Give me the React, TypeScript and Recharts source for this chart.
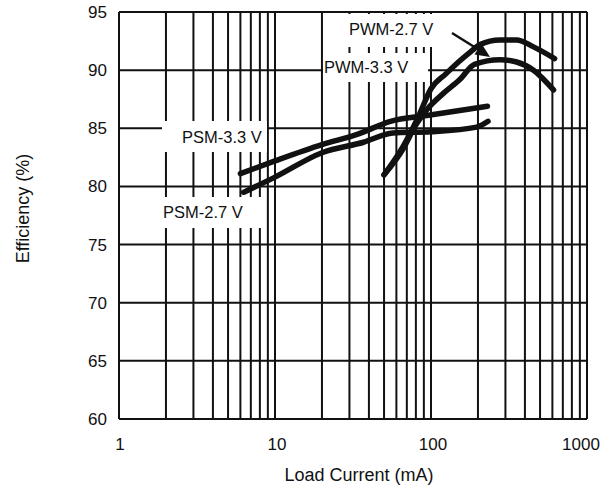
import React from "react";
import { LineChart, Line, XAxis, YAxis, CartesianGrid } from "recharts";

// --- Data ---

// log-scale grid: 1..9, 10..90, 100..1000 mA
const X_GRID = [1, 2, 3, 4, 5, 6, 7, 8, 9, 10, 20, 30, 40, 50, 60, 70, 80, 90, 100, 200, 300, 400, 500, 600, 700, 800, 900, 1000];
const X_LABELED = [1, 10, 100, 1000];
const Y_TICKS = [60, 65, 70, 75, 80, 85, 90, 95];

const PSM_33_X = [6, 10, 20, 34, 55, 94, 230];
const PSM_33_Y = [81.1, 82.2, 83.6, 84.5, 85.6, 86.1, 86.9];

const PSM_27_X = [6.3, 10, 20, 37, 57, 100, 196, 232];
const PSM_27_Y = [79.5, 80.8, 82.9, 83.8, 84.6, 84.7, 85.1, 85.6];

const PWM_27_X = [50, 66, 83, 100, 125, 150, 180, 206, 277, 354, 454, 620];
const PWM_27_Y = [81.0, 83.4, 86.0, 88.4, 89.7, 90.7, 91.6, 92.2, 92.6, 92.6, 92.0, 91.0];

const PWM_33_X = [50, 66, 80, 94, 120, 153, 190, 277, 354, 454, 610];
const PWM_33_Y = [81.0, 83.2, 85.3, 86.6, 88.0, 89.2, 90.5, 90.9, 90.7, 90.0, 88.3];

const toPoints = (xs: number[], ys: number[]) => xs.map((x, i) => ({ x, y: ys[i] }));

const SERIES = [
    { name: "PSM-3.3 V", data: toPoints(PSM_33_X, PSM_33_Y) },
    { name: "PSM-2.7 V", data: toPoints(PSM_27_X, PSM_27_Y) },
    { name: "PWM-2.7 V", data: toPoints(PWM_27_X, PWM_27_Y) },
    { name: "PWM-3.3 V", data: toPoints(PWM_33_X, PWM_33_Y) },
];

// --- Layout ---

const WIDTH = 611;
const HEIGHT = 492;
const FONT = '"Liberation Sans", Arial, Helvetica, sans-serif';
const INK = "#111";

// annotation boxes: white patch that hides the grid behind a label
const NOTES = [
    { text: "PWM-2.7 V", box: [331, 14, 112, 33], tx: 349, ty: 21 },
    { text: "PWM-3.3 V", box: [323, 53, 105, 29], tx: 324, ty: 59 },
    { text: "PSM-3.3 V", box: [162, 121, 105, 31], tx: 182, ty: 129 },
    { text: "PSM-2.7 V", box: [158, 197, 107, 31], tx: 163, ty: 204 },
];

function XTick(props: any)
{
    const { x, y, payload } = props;
    if (!X_LABELED.includes(payload.value))
    {
        return null;
    }
    const shift = payload.value === 1000 ? -6 : payload.value === 1 ? 1 : 2;
    return (
        <text x={x + shift} y={y} dy="0.71em" textAnchor="middle" fontSize={17} fill={INK} fontFamily={FONT}>
            {payload.value}
        </text>
    );
}

function YTitle(props: any)
{
    const { viewBox } = props;
    const cx = viewBox.x + 23;
    const cy = viewBox.y + viewBox.height / 2 - 7;
    return (
        <text
            x={cx}
            y={cy}
            transform={`rotate(-90 ${cx} ${cy})`}
            textAnchor="middle"
            dominantBaseline="central"
            fontSize={18}
            fill={INK}
            fontFamily={FONT}
        >
            Efficiency (%)
        </text>
    );
}

export default function App()
{
    return (
        <div
            style={{
                position: "absolute",
                left: 0,
                top: 0,
                width: WIDTH,
                height: HEIGHT,
                background: "#fff",
                fontFamily: FONT,
            }}
        >
            <LineChart width={WIDTH} height={HEIGHT} margin={{ top: 12, right: 24, left: 0, bottom: 0 }}>
                <CartesianGrid stroke={INK} strokeWidth={2} />
                <XAxis
                    type="number"
                    dataKey="x"
                    scale="log"
                    domain={[1, 1000]}
                    ticks={X_GRID}
                    interval={0}
                    allowDataOverflow
                    height={73}
                    tickSize={17}
                    tickLine={false}
                    axisLine={false}
                    tick={<XTick />}
                    label={{
                        value: "Load Current (mA)",
                        position: "insideBottom",
                        offset: 11,
                        dx: 6,
                        style: { fontSize: 18, fill: INK, fontFamily: FONT },
                    }}
                />
                <YAxis
                    type="number"
                    domain={[60, 95]}
                    ticks={Y_TICKS}
                    interval={0}
                    width={119}
                    tickSize={10}
                    tickLine={false}
                    axisLine={false}
                    tick={{ fontSize: 17, fill: INK, fontFamily: FONT }}
                    label={<YTitle />}
                />
                {SERIES.map((s) => (
                    <Line
                        key={s.name}
                        name={s.name}
                        data={s.data}
                        dataKey="y"
                        type="monotone"
                        stroke={INK}
                        strokeWidth={5.5}
                        strokeLinecap="round"
                        dot={false}
                        activeDot={false}
                        isAnimationActive={false}
                    />
                ))}
            </LineChart>

            {NOTES.map((n) => (
                <React.Fragment key={n.text}>
                    <div
                        style={{
                            position: "absolute",
                            left: n.box[0],
                            top: n.box[1],
                            width: n.box[2],
                            height: n.box[3],
                            background: "#fff",
                        }}
                    />
                    <div
                        style={{
                            position: "absolute",
                            left: n.tx,
                            top: n.ty,
                            fontSize: 16.5,
                            lineHeight: "17px",
                            color: INK,
                            whiteSpace: "nowrap",
                        }}
                    >
                        {n.text}
                    </div>
                </React.Fragment>
            ))}

            {/* arrow pointing PWM-2.7 V label at its curve */}
            <svg width={WIDTH} height={HEIGHT} style={{ position: "absolute", left: 0, top: 0, pointerEvents: "none" }}>
                <line x1={452} y1={33} x2={480} y2={50.5} stroke={INK} strokeWidth={2.5} />
                <polygon points="490,57 474.5,54.5 481.5,43.5" fill={INK} />
            </svg>
        </div>
    );
}
